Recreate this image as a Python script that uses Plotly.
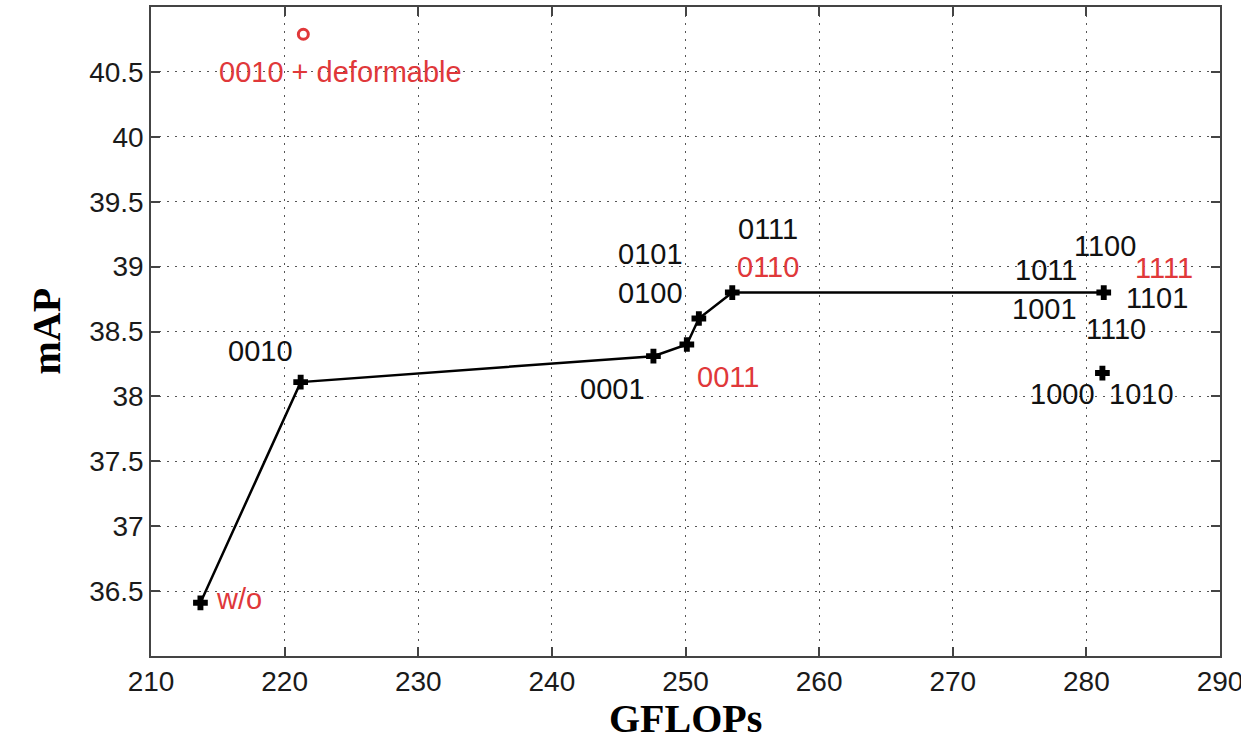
import plotly.graph_objects as go

# ---- data ----
line_gflops = [213.7, 221.2, 247.6, 250.1, 251.0, 253.5, 281.3]
line_map = [36.41, 38.11, 38.31, 38.40, 38.60, 38.80, 38.80]

extra_gflops = [281.2]
extra_map = [38.18]

deform_gflops = [221.4]
deform_map = [40.79]

label_texts = ["0010 + deformable", "0010", "w/o", "0001", "0011", "0101", "0100",
               "0111", "0110", "1100", "1011", "1111", "1101", "1001", "1110",
               "1000", "1010"]
label_x = [224.2, 218.2, 216.6, 244.5, 253.2, 247.4, 247.4,
           256.2, 256.2, 281.4, 277.0, 285.8, 285.3, 276.9, 282.2,
           278.2, 284.1]
label_y = [40.50, 38.35, 36.44, 38.06, 38.15, 39.10, 38.80,
           39.29, 39.00, 39.16, 38.97, 38.99, 38.76, 38.67, 38.52,
           38.02, 38.02]
label_red = [True, False, True, False, True, False, False,
             False, True, False, False, True, False, False, False,
             False, False]

x_ticks = [210, 220, 230, 240, 250, 260, 270, 280, 290]
y_ticks = [36.5, 37, 37.5, 38, 38.5, 39, 39.5, 40, 40.5]
y_ticktext = ["36.5", "37", "37.5", "38", "38.5", "39", "39.5", "40", "40.5"]

RED = "#e0383a"
BLACK = "#111111"

marker_style = dict(symbol="cross", size=11, color="black",
                    line=dict(width=1.5, color="black"))

fig = go.Figure()
fig.add_trace(go.Scatter(x=line_gflops, y=line_map, mode="lines+markers",
                         line=dict(color="black", width=2.5),
                         marker=marker_style,
                         showlegend=False, hoverinfo="skip"))
fig.add_trace(go.Scatter(x=extra_gflops, y=extra_map, mode="markers",
                         marker=marker_style,
                         showlegend=False, hoverinfo="skip"))
fig.add_trace(go.Scatter(x=deform_gflops, y=deform_map, mode="markers",
                         marker=dict(symbol="circle-open", size=10, color=RED,
                                     line=dict(width=3, color=RED)),
                         showlegend=False, hoverinfo="skip"))

for t, lx, ly, r in zip(label_texts, label_x, label_y, label_red):
    fig.add_annotation(x=lx, y=ly, text=t, showarrow=False,
                       xanchor="center", yanchor="middle",
                       font=dict(family="Liberation Sans, Arial", size=29,
                                 color=RED if r else BLACK))

axis_common = dict(showline=True, mirror="ticks", linecolor="#444444", linewidth=1.5,
                   ticks="inside", ticklen=9, tickcolor="#444444", tickwidth=1.5,
                   showgrid=True, gridcolor="#555555", gridwidth=1, griddash="2px,6px",
                   zeroline=False, ticklabeloverflow="allow", automargin=False,
                   tickfont=dict(family="Liberation Sans, Arial", size=28, color="#1a1a1a"))

fig.update_xaxes(range=[210, 290], tickvals=x_ticks, **axis_common)
fig.update_yaxes(range=[36, 41], tickvals=y_ticks, ticktext=y_ticktext, **axis_common)

fig.add_annotation(xref="paper", yref="paper", x=0.5, y=0, yshift=-62,
                   text="<b>GFLOPs</b>", showarrow=False, xanchor="center", yanchor="middle",
                   font=dict(family="Liberation Serif, Times New Roman", size=40, color="black"))
fig.add_annotation(xref="paper", yref="paper", x=0, y=0.5, xshift=-105,
                   text="<b>mAP</b>", showarrow=False, textangle=-90,
                   xanchor="center", yanchor="middle",
                   font=dict(family="Liberation Serif, Times New Roman", size=40, color="black"))

fig.update_layout(width=1241, height=744,
                  margin=dict(l=151, r=21, t=7, b=88),
                  plot_bgcolor="white", paper_bgcolor="white")

fig.write_html("out.html")
